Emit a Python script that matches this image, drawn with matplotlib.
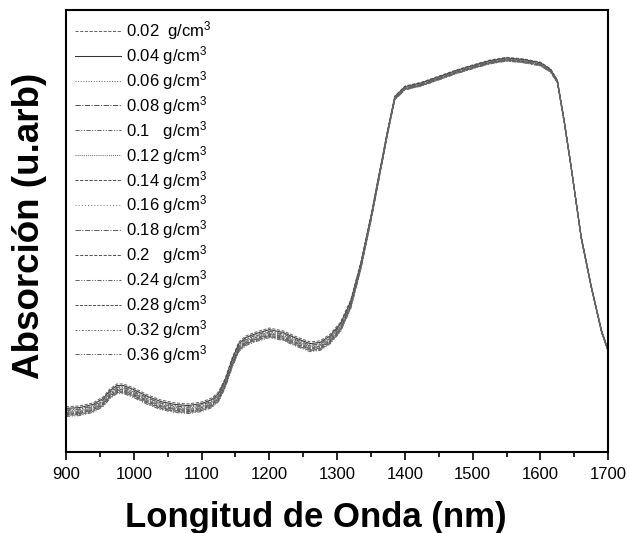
import matplotlib
matplotlib.use("Agg")
import numpy as np
import matplotlib.pyplot as plt
from matplotlib.ticker import MultipleLocator

plt.rcParams["font.family"] = ["Liberation Sans", "DejaVu Sans"]
plt.rcParams["mathtext.fontset"] = "custom"
plt.rcParams["mathtext.rm"] = "Liberation Sans"
plt.rcParams["mathtext.it"] = "Liberation Sans:italic"
plt.rcParams["mathtext.bf"] = "Liberation Sans:bold"

# wavelength grid (nm) and upper envelope of the spectra (a.u.)
WAVE = [900, 920, 940, 955, 965, 975, 985, 1000, 1020, 1040, 1060, 1080, 1100,
        1115, 1125, 1135, 1145, 1155, 1165, 1180, 1200, 1220, 1240, 1260, 1275,
        1290, 1305, 1320, 1335, 1350, 1365, 1375, 1385, 1400, 1425, 1450, 1475,
        1500, 1525, 1550, 1575, 1600, 1615, 1625, 1635, 1645, 1660, 1675, 1690, 1700]
TOP = [0.113, 0.115, 0.123, 0.138, 0.158, 0.170, 0.170, 0.160, 0.143, 0.130,
       0.123, 0.120, 0.125, 0.135, 0.150, 0.185, 0.235, 0.275, 0.290, 0.300,
       0.310, 0.303, 0.288, 0.275, 0.278, 0.295, 0.325, 0.380, 0.475, 0.593,
       0.723, 0.810, 0.890, 0.915, 0.925, 0.940, 0.955, 0.968, 0.980, 0.987,
       0.983, 0.975, 0.958, 0.930, 0.830, 0.718, 0.540, 0.415, 0.305, 0.255]
# how much of each series' offset survives at each wavelength (curves merge on the plateau)
FADE = [1, 1, 1, 1, 1, 1, 1, 1, 1, 1, 1, 1, 1, 1, 1, 1, 1, 1, 1, 1, 1, 1, 1, 1, 1,
        1, 1, 0.9, 0.75, 0.6, 0.5, 0.45, 0.4, 0.4, 0.4, 0.4, 0.4, 0.4, 0.4, 0.4,
        0.4, 0.4, 0.35, 0.3, 0.25, 0.2, 0.2, 0.2, 0.2, 0.2]

LABELS = ["0.02  g/cm$^3$", "0.04 g/cm$^3$", "0.06 g/cm$^3$", "0.08 g/cm$^3$",
          "0.1   g/cm$^3$", "0.12 g/cm$^3$", "0.14 g/cm$^3$", "0.16 g/cm$^3$",
          "0.18 g/cm$^3$", "0.2   g/cm$^3$", "0.24 g/cm$^3$", "0.28 g/cm$^3$",
          "0.32 g/cm$^3$", "0.36 g/cm$^3$"]
# downward offset of each series in the low-absorbance region (a.u.)
SHIFT = [0.000, 0.004, 0.006, 0.008, 0.010, 0.012, 0.014, 0.013, 0.016,
         0.018, 0.019, 0.021, 0.022, 0.024]

STYLES = [(0, (3, 1.5)), "-", (0, (1, 1.5)), (0, (5, 1.5, 1, 1.5)),
          (0, (4, 1.5, 1, 1.5, 1, 1.5)), (0, (1, 1)), (0, (3, 1.5)), (0, (1, 2)),
          (0, (5, 1.5, 1, 1.5)), (0, (3, 1.5)), (0, (4, 1.5, 1, 1.5, 1, 1.5)),
          (0, (3, 1.2)), (0, (2, 1.5, 1, 1.5)), (0, (4, 1.5, 1, 1.5, 1, 1.5))]
COLORS = ["#666666", "#333333", "#777777", "#555555", "#666666", "#777777",
          "#555555", "#888888", "#666666", "#555555", "#666666", "#555555",
          "#777777", "#666666"]

fig = plt.figure(figsize=(6.29, 5.33), dpi=100)
fig.patch.set_facecolor("white")
ax = fig.add_axes([0.105, 0.152, 0.862, 0.829])

top = np.array(TOP); fade = np.array(FADE)
for lab, sh, ls, c in zip(LABELS, SHIFT, STYLES, COLORS):
    ax.plot(WAVE, top - sh * fade, ls=ls, color=c, lw=0.75, label=lab)

ax.set_xlim(900, 1700)
ax.set_ylim(0, 1.105)
ax.xaxis.set_major_locator(MultipleLocator(100))
ax.xaxis.set_minor_locator(MultipleLocator(50))
ax.tick_params(axis="x", which="major", direction="out", length=6, width=1.2,
               labelsize=12, pad=5)
ax.tick_params(axis="x", which="minor", direction="out", length=3.5, width=1.2)
ax.set_yticks([])
for s in ax.spines.values():
    s.set_linewidth(1.5)

ax.set_xlabel("Longitud de Onda (nm)", fontsize=25, fontweight="bold")
ax.set_ylabel("Absorción (u.arb)", fontsize=26.5, fontweight="bold")
ax.xaxis.set_label_coords(0.46, -0.112)
ax.yaxis.set_label_coords(-0.035, 0.511)

leg = ax.legend(loc="upper left", frameon=False, fontsize=12, handlelength=2.75,
                handletextpad=0.3, labelspacing=0.12, borderaxespad=0.25,
                borderpad=0.3)

fig.savefig("out.png", facecolor="white")
